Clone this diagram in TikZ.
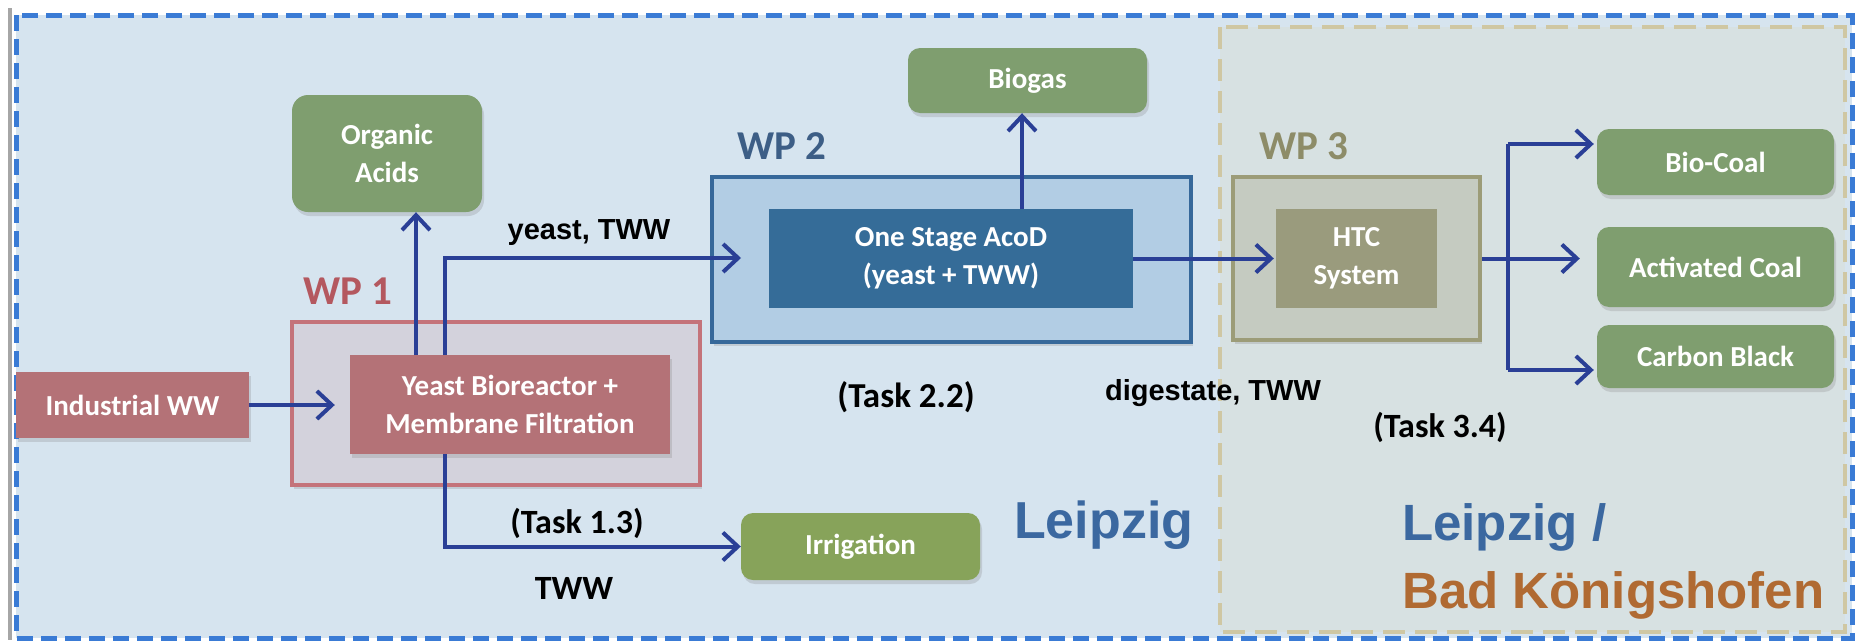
\documentclass[tikz,border=0pt]{standalone}
\usepackage{fontspec}
\setmainfont{Carlito}
\newfontfamily\arial{Liberation Sans}
\usetikzlibrary{arrows.meta,shadows,calc}
\definecolor{bgblue}{HTML}{D6E4EF}
\definecolor{bgtan}{HTML}{D7E1E2}
\definecolor{tanline}{HTML}{CFC7A3}
\definecolor{outerdash}{HTML}{3A7BD5}
\definecolor{redbox}{HTML}{B47277}
\definecolor{wponefill}{HTML}{D3D2DC}
\definecolor{wponeline}{HTML}{C4737A}
\definecolor{wponetxt}{HTML}{B4585F}
\definecolor{wptwofill}{HTML}{B2CDE4}
\definecolor{wptwoline}{HTML}{36689A}
\definecolor{wptwoin}{HTML}{356C98}
\definecolor{wptwotxt}{HTML}{3D5E86}
\definecolor{wpthreefill}{HTML}{C5CBC1}
\definecolor{wpthreeline}{HTML}{9C9C78}
\definecolor{wpthreein}{HTML}{9A9B7D}
\definecolor{wpthreetxt}{HTML}{8D8C68}
\definecolor{greenbox}{HTML}{7F9E6F}
\definecolor{irrgreen}{HTML}{87A35A}
\definecolor{arrowblue}{HTML}{2A3F96}
\definecolor{leipblue}{HTML}{3B68A0}
\definecolor{badorange}{HTML}{B06A32}
\tikzset{
  shade/.style={drop shadow={shadow xshift=2pt,shadow yshift=-4pt,opacity=0.25}},
  boxtext/.style={text=white,font=\fontsize{29}{38}\selectfont\bfseries,align=center,inner sep=0pt},
  redb/.style={boxtext,fill=redbox,shade},
  greenb/.style={boxtext,fill=greenbox,rounded corners=12pt,shade},
  wpouter/.style={inner sep=0pt,line width=4pt,shade},
  lbl/.style={text=black,inner sep=0pt},
  wplbl/.style={inner sep=0pt,font=\fontsize{41}{41}\selectfont\bfseries},
  arr/.style={draw=arrowblue,line width=4pt,-{Straight Barb[length=15pt,width=28pt]}},
  ln/.style={draw=arrowblue,line width=4pt},
}
\begin{document}
\begin{tikzpicture}[x=1pt,y=-1pt]
\useasboundingbox (0,0) rectangle (1858,643);
% backgrounds
\draw[gray!70,line width=4pt] (10,8) -- (10,640);
\fill[bgblue] (16,15) rectangle (1852,638);
\draw[tanline,fill=bgtan,line width=4pt,dash pattern=on 22pt off 10pt] (1220,27) rectangle (1845,632);
\draw[outerdash,line width=5pt,dash pattern=on 16pt off 8pt] (16,15) rectangle (1852,638);

% WP1
\node[wpouter,draw=wponeline,fill=wponefill,minimum width=408pt,minimum height=163pt] (wp1) at (496,403.5) {};
\node[redb,minimum width=320pt,minimum height=99pt] (yeast) at (510,404.5) {Yeast Bioreactor +\\Membrane Filtration};
\node[redb,minimum width=233pt,minimum height=66pt] (indus) at (132.5,405) {Industrial WW};
\node[wplbl,text=wponetxt] (wp1l) at (348,291) {WP 1};
\node[greenb,minimum width=190pt,minimum height=117pt,rounded corners=16pt] (organic) at (387,153.5) {Organic\\Acids};
\node[greenb,fill=irrgreen,minimum width=239pt,minimum height=67pt] (irr) at (860.5,546.5) {Irrigation};

% WP2
\node[wpouter,draw=wptwoline,fill=wptwofill,minimum width=479pt,minimum height=165pt] (wp2) at (951.5,259.5) {};
\node[boxtext,fill=wptwoin,minimum width=364pt,minimum height=99pt] (acod) at (951,258.5) {One Stage AcoD\\(yeast + TWW)};
\node[wplbl,text=wptwotxt] (wp2l) at (782,146) {WP 2};
\node[greenb,minimum width=239pt,minimum height=65pt] (biogas) at (1027.5,80.5) {Biogas};

% WP3
\node[wpouter,draw=wpthreeline,fill=wpthreefill,minimum width=247pt,minimum height=163pt] (wp3) at (1356.5,258.5) {};
\node[boxtext,fill=wpthreein,minimum width=161pt,minimum height=99pt] (htc) at (1356.5,258.5) {HTC\\System};
\node[wplbl,text=wpthreetxt] (wp3l) at (1304,146) {WP 3};
\node[greenb,minimum width=237pt,minimum height=66pt] (biocoal) at (1715.5,162) {Bio-Coal};
\node[greenb,minimum width=237pt,minimum height=80pt] (actcoal) at (1715.5,267) {Activated Coal};
\node[greenb,minimum width=237pt,minimum height=63pt] (carbon) at (1715.5,356.5) {Carbon Black};

% connectors
\coordinate (oa) at (416,355);
\coordinate (yt) at (445,355);
\coordinate (yb) at (445,454);
\coordinate (wpin) at (741,258);
\coordinate (bg) at (1022,209);
\coordinate (bt) at (1508,144);
\coordinate (bb) at (1508,370);
\draw[arr,shorten >=15pt] (indus.east) -- (indus.east -| yeast.west);
\draw[arr] (oa) -- (oa |- organic.south);
\draw[arr] (yt) |- (wpin);
\draw[arr] (yb) |- (irr.west);
\draw[arr] (bg) -- (bg |- biogas.south);
\draw[arr,shorten >=2pt] (acod.east) -- (htc.west);
\draw[arr,shorten >=17pt] (wp3.east) -- (wp3.east -| actcoal.west);
\draw[ln] (bt) -- (bb);
\draw[arr,shorten >=3pt] (bt) -- (bt -| biocoal.west);
\draw[arr,shorten >=3pt] (bb) -- (bb -| carbon.west);

% labels
\node[lbl,font=\arial\fontsize{29}{29}\selectfont\bfseries] (l1) at (589,233) {yeast, TWW};
\node[lbl,font=\fontsize{34}{34}\selectfont\bfseries] (l2) at (577,523) {(Task 1.3)};
\node[lbl,font=\fontsize{34}{34}\selectfont\bfseries] (l3) at (574,588) {TWW};
\node[lbl,font=\fontsize{35}{35}\selectfont\bfseries] (l4) at (906,397) {(Task 2.2)};
\node[lbl,font=\arial\fontsize{29}{29}\selectfont\bfseries] (l5) at (1213,393) {digestate, TWW};
\node[lbl,font=\fontsize{34}{34}\selectfont\bfseries] (l6) at (1440,427) {(Task 3.4)};
\node[inner sep=0pt,anchor=base west,text=leipblue,font=\arial\fontsize{52}{52}\selectfont\bfseries] (lp1) at (1014,538) {Leipzig};
\node[inner sep=0pt,anchor=base west,text=leipblue,font=\arial\fontsize{51}{51}\selectfont\bfseries] (lp2) at (1402,540) {Leipzig /};
\node[inner sep=0pt,anchor=base west,text=badorange,font=\arial\fontsize{51}{51}\selectfont\bfseries] (bk) at (1402,608) {Bad Königshofen};
\end{tikzpicture}
\end{document}
